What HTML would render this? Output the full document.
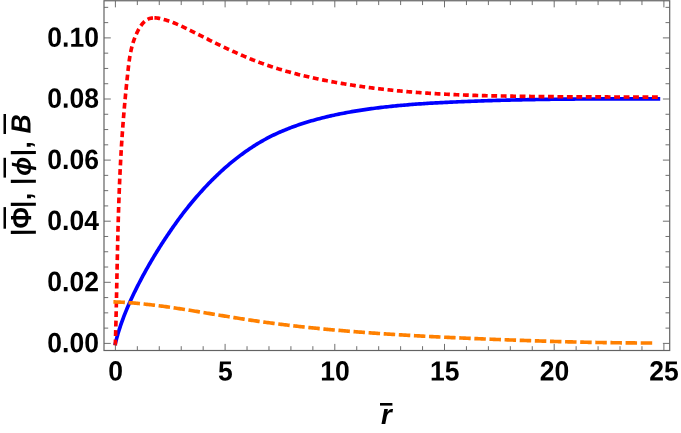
<!DOCTYPE html>
<html><head><meta charset="utf-8"><title>plot</title>
<style>
html,body{margin:0;padding:0;background:#fff;}
body{width:681px;height:433px;overflow:hidden;font-family:"Liberation Sans",sans-serif;}
svg{display:block;will-change:transform;}
text{font-family:"Liberation Sans",sans-serif;font-weight:bold;font-size:27.8px;fill:#000;}
</style></head><body>
<svg width="681" height="433" viewBox="0 0 681 433">
<rect width="681" height="433" fill="#fff"/>
<g fill="none" stroke-width="3.65" stroke-linejoin="round">
<polyline stroke="#0000ff" stroke-linecap="square" points="115.40,343.40 115.79,341.80 116.19,340.20 116.61,338.61 117.04,337.02 117.49,335.44 117.94,333.86 118.41,332.28 118.90,330.71 119.39,329.14 119.90,327.58 120.42,326.01 120.95,324.46 121.49,322.90 122.04,321.35 122.61,319.80 123.18,318.26 123.77,316.72 124.36,315.18 124.97,313.65 125.58,312.12 126.20,310.60 126.84,309.08 127.48,307.56 128.13,306.04 128.79,304.53 129.45,303.02 130.13,301.52 130.81,300.02 131.50,298.52 132.20,297.02 132.90,295.53 133.61,294.04 134.33,292.56 135.06,291.08 135.79,289.60 136.52,288.12 137.26,286.65 138.01,285.18 138.76,283.71 139.52,282.25 140.28,280.79 141.04,279.33 141.82,277.88 142.59,276.43 143.37,274.98 144.16,273.54 144.95,272.10 145.75,270.66 146.55,269.22 147.36,267.79 148.17,266.36 148.98,264.93 149.80,263.51 150.63,262.09 151.46,260.67 152.29,259.25 153.13,257.84 153.98,256.43 154.83,255.02 155.69,253.61 156.54,252.21 157.41,250.81 158.28,249.42 159.15,248.02 160.03,246.63 160.92,245.24 161.80,243.85 162.70,242.47 163.60,241.09 164.50,239.71 165.41,238.33 166.32,236.96 167.24,235.59 168.16,234.22 169.09,232.85 170.02,231.48 170.95,230.12 171.90,228.76 172.84,227.40 173.79,226.05 174.75,224.70 175.71,223.34 176.67,222.00 177.64,220.65 178.62,219.30 179.59,217.96 180.58,216.62 181.57,215.30 182.56,213.98 183.56,212.67 184.56,211.37 185.57,210.08 186.58,208.79 187.60,207.52 188.62,206.25 189.65,204.99 190.68,203.74 191.72,202.49 192.77,201.24 193.82,200.01 194.87,198.77 195.93,197.54 197.00,196.32 198.07,195.09 199.15,193.87 200.23,192.65 201.32,191.43 202.41,190.22 203.51,189.02 204.62,187.82 205.73,186.63 206.84,185.45 207.97,184.27 209.10,183.10 210.23,181.94 211.37,180.78 212.52,179.63 213.67,178.49 214.83,177.35 216.00,176.22 217.17,175.09 218.35,173.97 219.53,172.86 220.72,171.76 221.92,170.66 223.13,169.56 224.34,168.47 225.55,167.39 226.78,166.32 228.01,165.26 229.25,164.20 230.49,163.16 231.74,162.12 233.00,161.10 234.26,160.08 235.53,159.07 236.81,158.07 238.10,157.08 239.39,156.10 240.69,155.13 242.00,154.16 243.31,153.21 244.63,152.26 245.96,151.32 247.30,150.39 248.64,149.47 249.99,148.56 251.35,147.65 252.72,146.76 254.09,145.88 255.47,145.01 256.86,144.14 258.26,143.29 259.66,142.46 261.07,141.63 262.49,140.82 263.92,140.02 265.36,139.23 266.80,138.45 268.25,137.69 269.71,136.94 271.18,136.21 272.65,135.48 274.14,134.77 275.62,134.07 277.12,133.37 278.62,132.69 280.13,132.02 281.65,131.36 283.17,130.71 284.69,130.08 286.23,129.45 287.76,128.84 289.31,128.24 290.85,127.65 292.41,127.07 293.97,126.50 295.53,125.94 297.09,125.39 298.67,124.85 300.24,124.32 301.82,123.80 303.40,123.28 304.99,122.78 306.58,122.29 308.17,121.80 309.76,121.32 311.36,120.86 312.96,120.40 314.56,119.95 316.16,119.50 317.77,119.07 319.38,118.64 320.99,118.22 322.60,117.81 324.21,117.41 325.82,117.02 327.44,116.63 329.05,116.25 330.67,115.88 332.29,115.52 333.91,115.16 335.53,114.81 337.15,114.47 338.78,114.13 340.40,113.81 342.03,113.48 343.65,113.17 345.28,112.86 346.91,112.55 348.54,112.25 350.17,111.96 351.80,111.67 353.44,111.39 355.07,111.12 356.70,110.85 358.34,110.59 359.98,110.33 361.61,110.08 363.25,109.83 364.89,109.59 366.53,109.35 368.17,109.12 369.81,108.89 371.45,108.67 373.09,108.45 374.73,108.24 376.37,108.03 378.02,107.83 379.66,107.63 381.30,107.43 382.95,107.24 384.59,107.05 386.24,106.87 387.88,106.69 389.53,106.51 391.17,106.34 392.82,106.17 394.46,106.00 396.11,105.84 397.75,105.69 399.40,105.53 401.04,105.38 402.69,105.23 404.34,105.09 405.98,104.95 407.63,104.81 409.27,104.68 410.92,104.55 412.57,104.42 414.21,104.29 415.86,104.17 417.50,104.05 419.15,103.94 420.80,103.82 422.44,103.71 424.09,103.60 425.74,103.50 427.38,103.39 429.03,103.29 430.68,103.19 432.32,103.10 433.97,103.00 435.62,102.91 437.27,102.82 438.91,102.73 440.56,102.65 442.21,102.56 443.85,102.48 445.50,102.40 447.15,102.32 448.80,102.24 450.44,102.17 452.09,102.09 453.74,102.02 455.39,101.95 457.03,101.87 458.68,101.80 460.33,101.73 461.98,101.66 463.62,101.60 465.27,101.53 466.92,101.46 468.57,101.40 470.22,101.33 471.87,101.27 473.51,101.20 475.16,101.14 476.81,101.08 478.46,101.02 480.11,100.96 481.76,100.90 483.40,100.85 485.05,100.79 486.70,100.73 488.35,100.68 490.00,100.63 491.65,100.58 493.30,100.52 494.94,100.47 496.59,100.43 498.24,100.38 499.89,100.33 501.54,100.29 503.19,100.24 504.84,100.20 506.49,100.16 508.14,100.12 509.79,100.08 511.44,100.04 513.09,100.00 514.73,99.97 516.38,99.93 518.03,99.89 519.68,99.86 521.33,99.82 522.98,99.79 524.63,99.76 526.28,99.72 527.93,99.69 529.58,99.66 531.23,99.62 532.88,99.59 534.53,99.56 536.18,99.53 537.83,99.50 539.48,99.47 541.13,99.44 542.78,99.42 544.43,99.39 546.08,99.36 547.73,99.34 549.38,99.31 551.03,99.29 552.68,99.27 554.34,99.25 555.99,99.22 557.64,99.20 559.29,99.18 560.94,99.17 562.59,99.15 564.24,99.13 565.89,99.12 567.54,99.10 569.19,99.09 570.84,99.08 572.49,99.07 574.15,99.06 575.80,99.05 577.45,99.04 579.10,99.03 580.75,99.02 582.40,99.02 584.05,99.01 585.70,99.00 587.35,99.00 589.01,98.99 590.66,98.98 592.31,98.98 593.96,98.97 595.61,98.96 597.26,98.95 598.92,98.94 600.57,98.94 602.22,98.93 603.87,98.92 605.52,98.91 607.17,98.90 608.83,98.90 610.48,98.89 612.13,98.89 613.78,98.88 615.43,98.87 617.09,98.87 618.74,98.87 620.39,98.86 622.04,98.86 623.70,98.86 625.35,98.85 627.00,98.85 628.65,98.85 630.30,98.85 631.96,98.85 633.61,98.85 635.26,98.85 636.91,98.85 638.57,98.85 640.22,98.85 641.87,98.85 643.52,98.86 645.18,98.86 646.83,98.86 648.48,98.87 650.14,98.87 651.79,98.88 653.44,98.88 655.09,98.89 656.75,98.89 658.40,98.90"/>
<polyline stroke="#ff0000" stroke-dasharray="5.8 3.677" points="115.30,345.40 115.33,344.25 115.37,343.10 115.40,341.95 115.44,340.81 115.47,339.66 115.50,338.51 115.53,337.36 115.57,336.22 115.60,335.07 115.63,333.92 115.66,332.77 115.69,331.63 115.72,330.48 115.75,329.33 115.78,328.19 115.81,327.04 115.84,325.89 115.87,324.75 115.90,323.60 115.93,322.46 115.96,321.31 115.98,320.16 116.01,319.02 116.04,317.87 116.07,316.73 116.09,315.58 116.12,314.44 116.15,313.29 116.17,312.15 116.20,311.00 116.23,309.86 116.25,308.71 116.28,307.57 116.30,306.43 116.33,305.28 116.35,304.14 116.38,302.99 116.40,301.85 116.43,300.71 116.45,299.56 116.48,298.42 116.50,297.28 116.53,296.13 116.55,294.99 116.57,293.85 116.60,292.70 116.62,291.56 116.65,290.42 116.67,289.27 116.69,288.13 116.72,286.99 116.74,285.85 116.76,284.70 116.79,283.56 116.81,282.42 116.84,281.28 116.86,280.13 116.88,278.99 116.91,277.85 116.93,276.71 116.95,275.57 116.98,274.42 117.00,273.28 117.02,272.14 117.05,271.00 117.07,269.86 117.10,268.71 117.12,267.57 117.14,266.43 117.17,265.29 117.19,264.15 117.22,263.01 117.24,261.87 117.26,260.72 117.29,259.58 117.31,258.44 117.34,257.30 117.36,256.16 117.39,255.02 117.41,253.88 117.44,252.74 117.46,251.60 117.49,250.45 117.52,249.31 117.54,248.17 117.57,247.03 117.59,245.89 117.62,244.75 117.65,243.61 117.68,242.47 117.70,241.33 117.73,240.19 117.76,239.04 117.79,237.90 117.81,236.76 117.84,235.62 117.87,234.48 117.90,233.34 117.93,232.20 117.96,231.06 117.99,229.92 118.02,228.78 118.05,227.64 118.08,226.50 118.11,225.35 118.15,224.21 118.18,223.07 118.21,221.93 118.24,220.79 118.27,219.65 118.31,218.51 118.34,217.37 118.38,216.23 118.41,215.09 118.45,213.95 118.48,212.80 118.52,211.66 118.55,210.52 118.59,209.38 118.63,208.24 118.66,207.10 118.70,205.96 118.74,204.82 118.78,203.67 118.82,202.53 118.86,201.39 118.90,200.25 118.94,199.11 118.98,197.97 119.02,196.83 119.06,195.68 119.11,194.54 119.15,193.40 119.19,192.26 119.24,191.12 119.28,189.97 119.33,188.83 119.37,187.69 119.42,186.55 119.47,185.41 119.51,184.26 119.56,183.12 119.61,181.98 119.66,180.84 119.71,179.69 119.76,178.55 119.81,177.41 119.86,176.26 119.92,175.12 119.97,173.98 120.02,172.84 120.08,171.69 120.13,170.55 120.19,169.41 120.24,168.26 120.30,167.12 120.36,165.98 120.42,164.83 120.48,163.69 120.54,162.54 120.60,161.40 120.66,160.26 120.72,159.11 120.78,157.97 120.85,156.82 120.91,155.68 120.98,154.53 121.04,153.39 121.11,152.24 121.17,151.10 121.24,149.95 121.31,148.81 121.38,147.66 121.45,146.52 121.52,145.37 121.59,144.23 121.67,143.08 121.74,141.93 121.82,140.79 121.89,139.64 121.97,138.49 122.04,137.35 122.12,136.20 122.20,135.05 122.28,133.91 122.36,132.76 122.44,131.61 122.53,130.47 122.61,129.32 122.69,128.17 122.78,127.02 122.87,125.87 122.95,124.73 123.04,123.58 123.13,122.43 123.22,121.28 123.31,120.13 123.40,118.98 123.49,117.84 123.59,116.69 123.68,115.54 123.78,114.39 123.87,113.24 123.97,112.09 124.07,110.94 124.17,109.80 124.27,108.65 124.37,107.50 124.47,106.35 124.57,105.21 124.67,104.06 124.78,102.91 124.88,101.77 124.99,100.62 125.09,99.48 125.20,98.33 125.31,97.19 125.41,96.04 125.52,94.90 125.63,93.76 125.74,92.61 125.85,91.47 125.97,90.33 126.08,89.19 126.19,88.05 126.31,86.91 126.42,85.78 126.54,84.64 126.65,83.50 126.77,82.37 126.88,81.23 127.00,80.10 127.12,78.97 127.24,77.83 127.36,76.70 127.48,75.57 127.60,74.44 127.72,73.32 127.84,72.19 127.97,71.06 128.09,69.94 128.21,68.82 128.34,67.69 128.47,66.57 128.60,65.45 128.74,64.34 128.88,63.22 129.03,62.10 129.18,60.99 129.34,59.88 129.50,58.76 129.68,57.65 129.86,56.55 130.05,55.44 130.24,54.33 130.45,53.23 130.67,52.13 130.90,51.03 131.14,49.93 131.39,48.83 131.66,47.74 131.93,46.64 132.23,45.55 132.53,44.46 132.85,43.37 133.19,42.28 133.54,41.20 133.91,40.12 134.30,39.04 134.71,37.96 135.13,36.88 135.57,35.81 136.04,34.73 136.52,33.66 137.02,32.59 137.55,31.53 138.09,30.46 138.66,29.40 139.26,28.36 139.88,27.33 140.52,26.32 141.19,25.35 141.89,24.41 142.62,23.51 143.37,22.66 144.16,21.86 144.98,21.12 145.83,20.45 146.72,19.86 147.64,19.33 148.60,18.90 149.59,18.55 150.61,18.28 151.66,18.08 152.74,17.96 153.01,17.94"/>
<polyline stroke="#ff0000" stroke-dasharray="5.85 3.603" points="154.40,17.90 155.53,17.93 156.67,18.02 157.83,18.16 158.99,18.34 160.16,18.56 161.33,18.82 162.50,19.10 163.66,19.41 164.82,19.74 165.97,20.09 167.11,20.45 168.23,20.82 169.34,21.20 170.44,21.58 171.53,21.98 172.62,22.39 173.69,22.81 174.75,23.23 175.81,23.67 176.86,24.11 177.90,24.56 178.93,25.01 179.96,25.47 180.99,25.94 182.00,26.41 183.02,26.89 184.03,27.37 185.04,27.86 186.05,28.35 187.05,28.85 188.05,29.34 189.05,29.84 190.06,30.34 191.06,30.85 192.06,31.35 193.06,31.86 194.07,32.37 195.08,32.87 196.08,33.38 197.09,33.89 198.10,34.40 199.12,34.91 200.13,35.42 201.15,35.93 202.16,36.44 203.18,36.95 204.20,37.46 205.22,37.97 206.24,38.48 207.26,38.99 208.29,39.50 209.31,40.01 210.34,40.52 211.37,41.03 212.40,41.54 213.43,42.04 214.46,42.55 215.50,43.06 216.53,43.56 217.57,44.07 218.60,44.57 219.64,45.07 220.68,45.57 221.72,46.07 222.76,46.57 223.81,47.07 224.85,47.57 225.89,48.06 226.94,48.55 227.99,49.04 229.04,49.53 230.09,50.02 231.14,50.50 232.19,50.99 233.24,51.47 234.30,51.95 235.35,52.42 236.41,52.90 237.47,53.37 238.53,53.84 239.58,54.31 240.65,54.77 241.71,55.23 242.77,55.69 243.83,56.15 244.90,56.60 245.96,57.05 247.03,57.50 248.10,57.94 249.17,58.39 250.24,58.82 251.31,59.26 252.38,59.69 253.45,60.12 254.52,60.54 255.60,60.96 256.67,61.38 257.75,61.79 258.83,62.20 259.91,62.60 260.98,63.00 262.06,63.40 263.15,63.79 264.23,64.18 265.31,64.56 266.39,64.94 267.48,65.32 268.56,65.69 269.65,66.06 270.73,66.43 271.82,66.79 272.91,67.14 274.00,67.50 275.09,67.85 276.18,68.19 277.27,68.53 278.36,68.87 279.45,69.21 280.55,69.54 281.64,69.87 282.74,70.19 283.83,70.51 284.93,70.83 286.02,71.15 287.12,71.46 288.22,71.77 289.32,72.07 290.42,72.37 291.52,72.67 292.62,72.97 293.72,73.26 294.82,73.55 295.93,73.83 297.03,74.12 298.13,74.40 299.24,74.67 300.34,74.95 301.45,75.22 302.56,75.49 303.66,75.76 304.77,76.02 305.88,76.28 306.99,76.54 308.10,76.79 309.21,77.05 310.32,77.30 311.43,77.55 312.54,77.79 313.65,78.04 314.76,78.28 315.87,78.51 316.99,78.75 318.10,78.98 319.22,79.22 320.33,79.45 321.44,79.67 322.56,79.90 323.68,80.12 324.79,80.34 325.91,80.56 327.02,80.78 328.14,80.99 329.26,81.21 330.38,81.42 331.50,81.63 332.62,81.83 333.73,82.04 334.85,82.24 335.97,82.44 337.09,82.64 338.21,82.84 339.34,83.04 340.46,83.23 341.58,83.42 342.70,83.61 343.82,83.80 344.95,83.99 346.07,84.17 347.19,84.35 348.32,84.53 349.44,84.71 350.57,84.89 351.69,85.07 352.82,85.24 353.94,85.41 355.07,85.58 356.19,85.75 357.32,85.92 358.45,86.08 359.58,86.24 360.70,86.40 361.83,86.56 362.96,86.72 364.09,86.88 365.22,87.03 366.35,87.18 367.48,87.34 368.61,87.48 369.74,87.63 370.87,87.78 372.00,87.92 373.13,88.07 374.26,88.21 375.39,88.35 376.52,88.48 377.65,88.62 378.79,88.76 379.92,88.89 381.05,89.02 382.19,89.15 383.32,89.28 384.45,89.41 385.59,89.53 386.72,89.66 387.86,89.78 388.99,89.90 390.13,90.02 391.26,90.14 392.40,90.25 393.53,90.37 394.67,90.48 395.81,90.60 396.94,90.71 398.08,90.82 399.22,90.92 400.36,91.03 401.49,91.13 402.63,91.24 403.77,91.34 404.91,91.44 406.05,91.54 407.19,91.64 408.32,91.74 409.46,91.83 410.60,91.93 411.74,92.02 412.88,92.11 414.02,92.20 415.16,92.29 416.30,92.38 417.44,92.47 418.59,92.55 419.73,92.64 420.87,92.72 422.01,92.80 423.15,92.88 424.29,92.96 425.44,93.04 426.58,93.11 427.72,93.19 428.86,93.26 430.01,93.34 431.15,93.41 432.29,93.48 433.44,93.55 434.58,93.62 435.72,93.69 436.87,93.75 438.01,93.82 439.16,93.88 440.30,93.95 441.45,94.01 442.59,94.07 443.73,94.13 444.88,94.19 446.02,94.25 447.17,94.30 448.32,94.36 449.46,94.41 450.61,94.47 451.75,94.52 452.90,94.57 454.04,94.62 455.19,94.67 456.34,94.72 457.48,94.77 458.63,94.82 459.78,94.87 460.92,94.91 462.07,94.95 463.22,95.00 464.37,95.04 465.51,95.08 466.66,95.12 467.81,95.16 468.96,95.20 470.10,95.24 471.25,95.28 472.40,95.32 473.55,95.35 474.69,95.39 475.84,95.42 476.99,95.45 478.14,95.49 479.29,95.52 480.44,95.55 481.58,95.58 482.73,95.61 483.88,95.64 485.03,95.67 486.18,95.70 487.33,95.72 488.48,95.75 489.63,95.77 490.78,95.80 491.92,95.82 493.07,95.85 494.22,95.87 495.37,95.89 496.52,95.91 497.67,95.93 498.82,95.96 499.97,95.98 501.12,95.99 502.27,96.01 503.42,96.03 504.57,96.05 505.72,96.07 506.87,96.09 508.02,96.11 509.17,96.13 510.31,96.15 511.46,96.17 512.61,96.19 513.76,96.21 514.91,96.22 516.06,96.24 517.21,96.26 518.36,96.28 519.51,96.30 520.66,96.31 521.81,96.33 522.96,96.35 524.11,96.37 525.26,96.38 526.41,96.40 527.56,96.41 528.71,96.43 529.86,96.44 531.01,96.46 532.16,96.47 533.31,96.49 534.45,96.50 535.60,96.51 536.75,96.53 537.90,96.54 539.05,96.55 540.20,96.56 541.35,96.57 542.50,96.59 543.65,96.60 544.80,96.61 545.95,96.62 547.09,96.63 548.24,96.64 549.39,96.65 550.54,96.67 551.69,96.68 552.84,96.69 553.99,96.70 555.13,96.71 556.28,96.72 557.43,96.73 558.58,96.74 559.73,96.75 560.87,96.76 562.02,96.77 563.17,96.78 564.32,96.78 565.46,96.79 566.61,96.80 567.76,96.80 568.91,96.81 570.05,96.82 571.20,96.82 572.35,96.82 573.49,96.83 574.64,96.83 575.79,96.84 576.93,96.84 578.08,96.85 579.22,96.85 580.37,96.86 581.52,96.86 582.66,96.86 583.81,96.87 584.95,96.87 586.10,96.88 587.24,96.88 588.39,96.88 589.53,96.89 590.68,96.89 591.82,96.90 592.97,96.90 594.11,96.90 595.25,96.91 596.40,96.91 597.54,96.91 598.68,96.92 599.83,96.92 600.97,96.92 602.11,96.93 603.26,96.93 604.40,96.93 605.54,96.94 606.68,96.94 607.83,96.94 608.97,96.95 610.11,96.95 611.25,96.96 612.39,96.96 613.53,96.97 614.67,96.97 615.82,96.98 616.96,96.98 618.10,96.99 619.24,96.99 620.38,97.00 621.52,97.01 622.65,97.01 623.79,97.02 624.93,97.02 626.07,97.02 627.21,97.02 628.35,97.03 629.49,97.03 630.62,97.03 631.76,97.03 632.90,97.03 634.04,97.03 635.17,97.03 636.31,97.03 637.45,97.03 638.58,97.04 639.72,97.04 640.85,97.04 641.99,97.04 643.12,97.05 644.26,97.05 645.39,97.05 646.53,97.05 647.66,97.05 648.80,97.05 649.93,97.05 651.06,97.06 652.19,97.06 653.33,97.06 654.46,97.06 655.59,97.06 656.72,97.06 657.85,97.06 658.99,97.06 660.12,97.06"/>
<polyline stroke="#ff8000" stroke-dasharray="11.5 3.63" points="113.40,301.85 114.74,301.90 116.08,301.95 117.43,302.01 118.77,302.07 120.11,302.13 121.45,302.20 122.79,302.28 124.13,302.36 125.47,302.44 126.81,302.53 128.16,302.62 129.50,302.72 130.84,302.82 132.18,302.93 133.52,303.04 134.86,303.15 136.21,303.27 137.55,303.39 138.89,303.51 140.23,303.64 141.57,303.77 142.92,303.90 144.26,304.04 145.60,304.19 146.94,304.33 148.29,304.48 149.63,304.63 150.97,304.78 152.31,304.94 153.66,305.10 155.00,305.27 156.34,305.43 157.68,305.60 159.03,305.77 160.37,305.95 161.71,306.13 163.06,306.30 164.40,306.49 165.74,306.67 167.09,306.86 168.43,307.05 169.77,307.24 171.11,307.43 172.46,307.63 173.80,307.82 175.15,308.02 176.49,308.22 177.83,308.43 179.18,308.63 180.52,308.84 181.86,309.04 183.21,309.25 184.55,309.46 185.89,309.67 187.24,309.89 188.58,310.10 189.93,310.32 191.27,310.53 192.61,310.75 193.96,310.97 195.30,311.19 196.65,311.41 197.99,311.63 199.34,311.85 200.68,312.07 202.03,312.30 203.37,312.52 204.71,312.74 206.06,312.97 207.40,313.19 208.75,313.42 210.09,313.64 211.44,313.87 212.78,314.09 214.13,314.31 215.47,314.54 216.82,314.76 218.16,314.99 219.51,315.21 220.85,315.44 222.20,315.66 223.54,315.88 224.89,316.10 226.24,316.32 227.58,316.54 228.93,316.76 230.27,316.98 231.62,317.20 232.96,317.42 234.31,317.64 235.65,317.85 237.00,318.07 238.35,318.28 239.69,318.49 241.04,318.70 242.38,318.91 243.73,319.12 245.08,319.33 246.42,319.53 247.77,319.74 249.12,319.94 250.46,320.14 251.81,320.34 253.15,320.54 254.50,320.73 255.85,320.93 257.19,321.12 258.54,321.32 259.89,321.51 261.23,321.70 262.58,321.89 263.93,322.07 265.27,322.26 266.62,322.44 267.97,322.63 269.32,322.81 270.66,322.99 272.01,323.17 273.36,323.34 274.70,323.52 276.05,323.69 277.40,323.87 278.75,324.04 280.09,324.21 281.44,324.38 282.79,324.54 284.14,324.71 285.48,324.88 286.83,325.04 288.18,325.20 289.53,325.36 290.87,325.52 292.22,325.68 293.57,325.83 294.92,325.99 296.27,326.14 297.61,326.29 298.96,326.45 300.31,326.60 301.66,326.74 303.01,326.89 304.36,327.04 305.70,327.18 307.05,327.33 308.40,327.47 309.75,327.61 311.10,327.75 312.45,327.89 313.79,328.03 315.14,328.16 316.49,328.30 317.84,328.43 319.19,328.57 320.54,328.70 321.89,328.83 323.24,328.96 324.59,329.09 325.93,329.22 327.28,329.34 328.63,329.47 329.98,329.59 331.33,329.72 332.68,329.84 334.03,329.96 335.38,330.08 336.73,330.20 338.08,330.32 339.43,330.44 340.78,330.55 342.13,330.67 343.48,330.78 344.83,330.90 346.18,331.01 347.53,331.12 348.88,331.23 350.23,331.34 351.58,331.45 352.93,331.56 354.28,331.67 355.63,331.78 356.98,331.88 358.33,331.99 359.68,332.09 361.03,332.19 362.38,332.30 363.73,332.40 365.08,332.50 366.43,332.60 367.78,332.70 369.13,332.79 370.48,332.89 371.83,332.99 373.18,333.08 374.53,333.18 375.88,333.27 377.23,333.37 378.58,333.46 379.93,333.55 381.29,333.64 382.64,333.73 383.99,333.82 385.34,333.91 386.69,334.00 388.04,334.09 389.39,334.18 390.74,334.26 392.09,334.35 393.45,334.43 394.80,334.52 396.15,334.60 397.50,334.68 398.85,334.76 400.20,334.85 401.55,334.93 402.91,335.01 404.26,335.09 405.61,335.17 406.96,335.25 408.31,335.32 409.67,335.40 411.02,335.48 412.37,335.55 413.72,335.63 415.07,335.71 416.43,335.78 417.78,335.85 419.13,335.93 420.48,336.00 421.83,336.07 423.19,336.15 424.54,336.22 425.89,336.29 427.24,336.36 428.60,336.43 429.95,336.50 431.30,336.57 432.65,336.64 434.01,336.70 435.36,336.77 436.71,336.84 438.06,336.91 439.42,336.97 440.77,337.04 442.12,337.11 443.48,337.17 444.83,337.24 446.18,337.30 447.53,337.37 448.89,337.43 450.24,337.49 451.59,337.56 452.95,337.62 454.30,337.68 455.65,337.74 457.01,337.81 458.36,337.87 459.71,337.93 461.07,337.99 462.42,338.05 463.77,338.11 465.13,338.17 466.48,338.23 467.84,338.29 469.19,338.35 470.54,338.41 471.90,338.46 473.25,338.52 474.60,338.58 475.96,338.64 477.31,338.69 478.67,338.75 480.02,338.80 481.37,338.86 482.73,338.91 484.08,338.97 485.44,339.02 486.79,339.08 488.15,339.13 489.50,339.19 490.85,339.24 492.21,339.29 493.56,339.34 494.92,339.40 496.27,339.45 497.63,339.50 498.98,339.55 500.34,339.60 501.69,339.65 503.05,339.70 504.40,339.75 505.76,339.80 507.11,339.85 508.47,339.90 509.82,339.95 511.18,340.00 512.53,340.05 513.89,340.10 515.24,340.15 516.60,340.19 517.95,340.24 519.31,340.29 520.66,340.34 522.02,340.39 523.37,340.43 524.73,340.48 526.08,340.53 527.44,340.58 528.79,340.62 530.15,340.67 531.50,340.72 532.86,340.76 534.22,340.81 535.57,340.85 536.93,340.90 538.28,340.94 539.64,340.99 540.99,341.03 542.35,341.08 543.71,341.12 545.06,341.16 546.42,341.20 547.77,341.25 549.13,341.29 550.49,341.33 551.84,341.37 553.20,341.41 554.56,341.45 555.91,341.49 557.27,341.53 558.62,341.57 559.98,341.61 561.34,341.65 562.69,341.69 564.05,341.72 565.41,341.76 566.76,341.80 568.12,341.83 569.48,341.87 570.83,341.90 572.19,341.94 573.55,341.97 574.90,342.00 576.26,342.04 577.62,342.07 578.97,342.10 580.33,342.13 581.69,342.16 583.05,342.19 584.40,342.22 585.76,342.25 587.12,342.28 588.47,342.31 589.83,342.33 591.19,342.36 592.55,342.39 593.90,342.41 595.26,342.44 596.62,342.46 597.97,342.48 599.33,342.51 600.69,342.53 602.05,342.55 603.40,342.57 604.76,342.59 606.12,342.61 607.48,342.63 608.84,342.65 610.19,342.67 611.55,342.69 612.91,342.71 614.27,342.72 615.62,342.74 616.98,342.76 618.34,342.77 619.70,342.79 621.06,342.81 622.41,342.82 623.77,342.84 625.13,342.85 626.49,342.86 627.85,342.88 629.21,342.89 630.56,342.90 631.92,342.92 633.28,342.93 634.64,342.94 636.00,342.95 637.36,342.96 638.71,342.97 640.07,342.98 641.43,342.99 642.79,343.00 644.15,343.01 645.51,343.02 646.87,343.02 648.22,343.03 649.58,343.04 650.94,343.04 652.30,343.05"/>
</g>
<g stroke="#555" stroke-width="0.85" fill="none"><line x1="115.40" y1="350.50" x2="115.40" y2="343.90"/><line x1="115.40" y1="0.75" x2="115.40" y2="7.35"/><line x1="137.34" y1="350.50" x2="137.34" y2="346.20"/><line x1="137.34" y1="0.75" x2="137.34" y2="5.05"/><line x1="159.28" y1="350.50" x2="159.28" y2="346.20"/><line x1="159.28" y1="0.75" x2="159.28" y2="5.05"/><line x1="181.22" y1="350.50" x2="181.22" y2="346.20"/><line x1="181.22" y1="0.75" x2="181.22" y2="5.05"/><line x1="203.16" y1="350.50" x2="203.16" y2="346.20"/><line x1="203.16" y1="0.75" x2="203.16" y2="5.05"/><line x1="225.10" y1="350.50" x2="225.10" y2="343.90"/><line x1="225.10" y1="0.75" x2="225.10" y2="7.35"/><line x1="247.04" y1="350.50" x2="247.04" y2="346.20"/><line x1="247.04" y1="0.75" x2="247.04" y2="5.05"/><line x1="268.98" y1="350.50" x2="268.98" y2="346.20"/><line x1="268.98" y1="0.75" x2="268.98" y2="5.05"/><line x1="290.92" y1="350.50" x2="290.92" y2="346.20"/><line x1="290.92" y1="0.75" x2="290.92" y2="5.05"/><line x1="312.86" y1="350.50" x2="312.86" y2="346.20"/><line x1="312.86" y1="0.75" x2="312.86" y2="5.05"/><line x1="334.80" y1="350.50" x2="334.80" y2="343.90"/><line x1="334.80" y1="0.75" x2="334.80" y2="7.35"/><line x1="356.74" y1="350.50" x2="356.74" y2="346.20"/><line x1="356.74" y1="0.75" x2="356.74" y2="5.05"/><line x1="378.68" y1="350.50" x2="378.68" y2="346.20"/><line x1="378.68" y1="0.75" x2="378.68" y2="5.05"/><line x1="400.62" y1="350.50" x2="400.62" y2="346.20"/><line x1="400.62" y1="0.75" x2="400.62" y2="5.05"/><line x1="422.56" y1="350.50" x2="422.56" y2="346.20"/><line x1="422.56" y1="0.75" x2="422.56" y2="5.05"/><line x1="444.50" y1="350.50" x2="444.50" y2="343.90"/><line x1="444.50" y1="0.75" x2="444.50" y2="7.35"/><line x1="466.44" y1="350.50" x2="466.44" y2="346.20"/><line x1="466.44" y1="0.75" x2="466.44" y2="5.05"/><line x1="488.38" y1="350.50" x2="488.38" y2="346.20"/><line x1="488.38" y1="0.75" x2="488.38" y2="5.05"/><line x1="510.32" y1="350.50" x2="510.32" y2="346.20"/><line x1="510.32" y1="0.75" x2="510.32" y2="5.05"/><line x1="532.26" y1="350.50" x2="532.26" y2="346.20"/><line x1="532.26" y1="0.75" x2="532.26" y2="5.05"/><line x1="554.20" y1="350.50" x2="554.20" y2="343.90"/><line x1="554.20" y1="0.75" x2="554.20" y2="7.35"/><line x1="576.14" y1="350.50" x2="576.14" y2="346.20"/><line x1="576.14" y1="0.75" x2="576.14" y2="5.05"/><line x1="598.08" y1="350.50" x2="598.08" y2="346.20"/><line x1="598.08" y1="0.75" x2="598.08" y2="5.05"/><line x1="620.02" y1="350.50" x2="620.02" y2="346.20"/><line x1="620.02" y1="0.75" x2="620.02" y2="5.05"/><line x1="641.96" y1="350.50" x2="641.96" y2="346.20"/><line x1="641.96" y1="0.75" x2="641.96" y2="5.05"/><line x1="663.90" y1="350.50" x2="663.90" y2="343.90"/><line x1="663.90" y1="0.75" x2="663.90" y2="7.35"/><line x1="104.00" y1="343.40" x2="110.80" y2="343.40"/><line x1="669.70" y1="343.40" x2="662.90" y2="343.40"/><line x1="104.00" y1="328.12" x2="108.20" y2="328.12"/><line x1="669.70" y1="328.12" x2="665.50" y2="328.12"/><line x1="104.00" y1="312.85" x2="108.20" y2="312.85"/><line x1="669.70" y1="312.85" x2="665.50" y2="312.85"/><line x1="104.00" y1="297.57" x2="108.20" y2="297.57"/><line x1="669.70" y1="297.57" x2="665.50" y2="297.57"/><line x1="104.00" y1="282.30" x2="110.80" y2="282.30"/><line x1="669.70" y1="282.30" x2="662.90" y2="282.30"/><line x1="104.00" y1="267.02" x2="108.20" y2="267.02"/><line x1="669.70" y1="267.02" x2="665.50" y2="267.02"/><line x1="104.00" y1="251.75" x2="108.20" y2="251.75"/><line x1="669.70" y1="251.75" x2="665.50" y2="251.75"/><line x1="104.00" y1="236.47" x2="108.20" y2="236.47"/><line x1="669.70" y1="236.47" x2="665.50" y2="236.47"/><line x1="104.00" y1="221.20" x2="110.80" y2="221.20"/><line x1="669.70" y1="221.20" x2="662.90" y2="221.20"/><line x1="104.00" y1="205.92" x2="108.20" y2="205.92"/><line x1="669.70" y1="205.92" x2="665.50" y2="205.92"/><line x1="104.00" y1="190.65" x2="108.20" y2="190.65"/><line x1="669.70" y1="190.65" x2="665.50" y2="190.65"/><line x1="104.00" y1="175.37" x2="108.20" y2="175.37"/><line x1="669.70" y1="175.37" x2="665.50" y2="175.37"/><line x1="104.00" y1="160.10" x2="110.80" y2="160.10"/><line x1="669.70" y1="160.10" x2="662.90" y2="160.10"/><line x1="104.00" y1="144.82" x2="108.20" y2="144.82"/><line x1="669.70" y1="144.82" x2="665.50" y2="144.82"/><line x1="104.00" y1="129.55" x2="108.20" y2="129.55"/><line x1="669.70" y1="129.55" x2="665.50" y2="129.55"/><line x1="104.00" y1="114.27" x2="108.20" y2="114.27"/><line x1="669.70" y1="114.27" x2="665.50" y2="114.27"/><line x1="104.00" y1="99.00" x2="110.80" y2="99.00"/><line x1="669.70" y1="99.00" x2="662.90" y2="99.00"/><line x1="104.00" y1="83.72" x2="108.20" y2="83.72"/><line x1="669.70" y1="83.72" x2="665.50" y2="83.72"/><line x1="104.00" y1="68.45" x2="108.20" y2="68.45"/><line x1="669.70" y1="68.45" x2="665.50" y2="68.45"/><line x1="104.00" y1="53.17" x2="108.20" y2="53.17"/><line x1="669.70" y1="53.17" x2="665.50" y2="53.17"/><line x1="104.00" y1="37.90" x2="110.80" y2="37.90"/><line x1="669.70" y1="37.90" x2="662.90" y2="37.90"/><line x1="104.00" y1="22.62" x2="108.20" y2="22.62"/><line x1="669.70" y1="22.62" x2="665.50" y2="22.62"/><line x1="104.00" y1="7.35" x2="108.20" y2="7.35"/><line x1="669.70" y1="7.35" x2="665.50" y2="7.35"/></g>
<rect x="104.0" y="0.75" width="565.7" height="349.75" fill="none" stroke="#636363" stroke-width="1.2"/>
<g><text transform="translate(115.60,380.55) rotate(0.03) scale(0.953,1)" text-anchor="middle">0</text><text transform="translate(225.30,380.55) rotate(0.03) scale(0.953,1)" text-anchor="middle">5</text><text transform="translate(335.00,380.55) rotate(0.03) scale(0.953,1)" text-anchor="middle">10</text><text transform="translate(444.70,380.55) rotate(0.03) scale(0.953,1)" text-anchor="middle">15</text><text transform="translate(554.40,380.55) rotate(0.03) scale(0.953,1)" text-anchor="middle">20</text><text transform="translate(664.10,380.55) rotate(0.03) scale(0.953,1)" text-anchor="middle">25</text></g>
<g><text transform="translate(98.90,352.25) rotate(0.03) scale(0.953,1)" text-anchor="end">0.00</text><text transform="translate(98.90,291.15) rotate(0.03) scale(0.953,1)" text-anchor="end">0.02</text><text transform="translate(98.90,230.05) rotate(0.03) scale(0.953,1)" text-anchor="end">0.04</text><text transform="translate(98.90,168.95) rotate(0.03) scale(0.953,1)" text-anchor="end">0.06</text><text transform="translate(98.90,107.85) rotate(0.03) scale(0.953,1)" text-anchor="end">0.08</text><text transform="translate(98.90,46.75) rotate(0.03) scale(0.953,1)" text-anchor="end">0.10</text></g>
<!-- x label -->
<g><rect x="380" y="403" width="12.4" height="2.6" fill="#000"/>
<text x="380.9" y="423.8" style="font-style:italic">r</text></g>
<!-- y label -->
<g transform="translate(30.9,234.0) rotate(-90)">
<rect x="5.30" y="-27.4" width="21.60" height="2.5"/><rect x="56.40" y="-27.4" width="19.80" height="2.5"/><rect x="100.00" y="-27.4" width="20.00" height="2.5"/>
</g>
<g transform="translate(30.9,234.0) rotate(-90.03)">
<text transform="translate(-1.86,-0.85) scale(0.886,0.953)">|</text><text transform="translate(26.34,-0.85) scale(0.886,0.953)">|</text><text transform="translate(49.24,-0.85) scale(0.886,0.953)">|</text><text transform="translate(77.89,-0.85) scale(0.886,0.953)">|</text><text transform="translate(5.61,0.00) scale(0.935,1.038)">&#x3A6;</text><text transform="translate(33.63,0.00) scale(1.000,0.960)">,</text><text transform="translate(58.28,0.00) scale(0.897,0.935)" style="font-style:italic">&#x3D5;</text><text transform="translate(85.13,0.00) scale(1.000,0.960)">,</text><text transform="translate(100.38,-0.40) scale(0.960,0.995)" style="font-style:italic">B</text>
</g>
</svg>
</body></html>
